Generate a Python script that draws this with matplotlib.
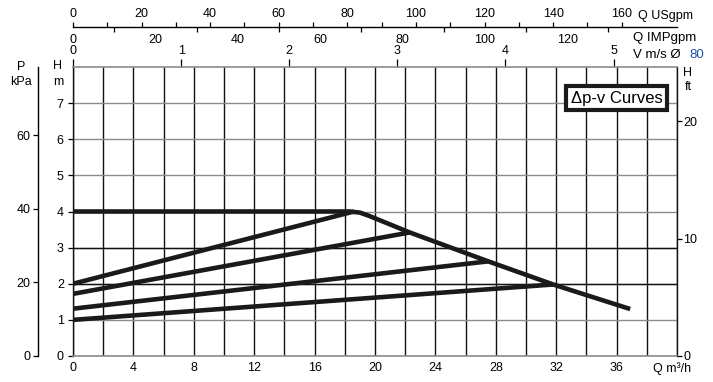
import numpy as np
import matplotlib
matplotlib.use("Agg")
from matplotlib import pyplot as plt
from matplotlib.ticker import MultipleLocator, FixedLocator

plt.rcParams['font.family'] = ['Liberation Sans', 'DejaVu Sans']
plt.rcParams['font.size'] = 9

# courbe max (delta p constant) : Q m3/h, H m
q_max = [0, 18.3, 19.0, 19.6, 22.3, 27.5, 31.8, 36.9]
h_max = [4.0, 4.0, 3.97, 3.88, 3.42, 2.62, 1.98, 1.30]

# courbes delta p-v : depart a Q=0, arrivee sur la courbe max
pv_start = [2.0, 1.72, 1.31, 1.0]
pv_end_q = [18.6, 22.3, 27.5, 31.8]
pv_end_h = [4.0, 3.42, 2.62, 1.98]

# echelles
q_ticks = [0, 4, 8, 12, 16, 20, 24, 28, 32, 36]
h_ticks = [0, 1, 2, 3, 4, 5, 6, 7]
kpa_ticks = [0, 20, 40, 60]
ft_ticks = [0, 10, 20]
usgpm_ticks = [0, 20, 40, 60, 80, 100, 120, 140, 160]
impgpm_ticks = [0, 20, 40, 60, 80, 100, 120]
v_ticks = [0, 1, 2, 3, 4, 5]

US_PER_M3H = 4.403
IMP_PER_M3H = 3.666
M3H_PER_MS = 7.16
KPA_PER_M = 9.81
FT_MAX = 24.6

W, H = 713, 382
fig = plt.figure(figsize=(W / 100, H / 100), dpi=100)
L, R = 73 / W, 677 / W
B, T = 26 / H, 315 / H
ax = fig.add_axes([L, B, R - L, T - B])
ax.set_xlim(0, 40)
ax.set_ylim(0, 8)

ax.xaxis.set_major_locator(FixedLocator(q_ticks))
ax.xaxis.set_minor_locator(MultipleLocator(2))
ax.set_yticks(h_ticks)
ax.tick_params(axis='x', which='both', length=0, pad=4.5)
ax.tick_params(axis='y', length=3.6, width=0.9, pad=3)
ax.grid(axis='x', which='both', color='#111111', lw=1.0)
ax.grid(axis='y', color='#8c8c8c', lw=1.0)
for h in [2, 3]:
    ax.axhline(h, color='#111111', lw=1.0, zorder=0.6)
ax.set_axisbelow(True)
for s in ['top', 'bottom']:
    ax.spines[s].set_color('#8c8c8c')
    ax.spines[s].set_linewidth(1.2)
for s in ['left', 'right']:
    ax.spines[s].set_color('#111111')
    ax.spines[s].set_linewidth(1.0)

# courbes
ax.plot(q_max, h_max, color='#1a1a1a', lw=3.3, solid_joinstyle='round',
        solid_capstyle='butt', zorder=3)
for h0, q1, h1 in zip(pv_start, pv_end_q, pv_end_h):
    ax.plot([0, q1], [h0, h1], color='#1a1a1a', lw=3.3,
            solid_capstyle='butt', zorder=3)

ax.text(36.0, 7.14, 'Δp-v Curves', ha='center', va='center', fontsize=12,
        zorder=5,
        bbox=dict(boxstyle='square,pad=0.26', fc='white', ec='#1a1a1a', lw=3))

# echelle V m/s sur le bord haut
sec = ax.secondary_xaxis('top', functions=(lambda q: q / M3H_PER_MS,
                                           lambda v: v * M3H_PER_MS))
sec.set_xticks(v_ticks)
sec.tick_params(length=6, width=0.9, pad=1)
sec.spines['top'].set_visible(False)

# echelle Q USgpm / IMPgpm
yq = (H - 27) / H
us = fig.add_axes([L, yq, R - L, 1e-4])
us.set_xlim(0, 40 * US_PER_M3H)
us.patch.set_visible(False)
us.set_yticks([])
for s in ['left', 'right', 'bottom']:
    us.spines[s].set_visible(False)
us.spines['top'].set_linewidth(1.0)
us.xaxis.tick_top()
us.set_xticks(usgpm_ticks)
us.xaxis.set_minor_locator(FixedLocator(list(range(10, 160, 20))))
us.tick_params(axis='x', which='both', length=3.6, width=0.9, pad=1.5)

imp = fig.add_axes([L, yq, R - L, 1e-4])
imp.set_xlim(0, 40 * IMP_PER_M3H)
imp.patch.set_visible(False)
imp.set_yticks([])
for s in imp.spines.values():
    s.set_visible(False)
imp.set_xticks(impgpm_ticks)
imp.xaxis.set_minor_locator(FixedLocator(list(range(10, 140, 20))))
imp.tick_params(axis='x', which='major', length=0, pad=5)
imp.tick_params(axis='x', which='minor', length=3.6, width=0.9)

# echelle P kPa a gauche
pk = fig.add_axes([38 / W, B, 1e-4, T - B])
pk.set_ylim(0, 8 * KPA_PER_M)
pk.patch.set_visible(False)
pk.set_xticks([])
for s in ['top', 'right', 'bottom']:
    pk.spines[s].set_visible(False)
pk.spines['left'].set_linewidth(1.0)
pk.set_yticks(kpa_ticks)
pk.tick_params(axis='y', length=3.6, width=0.9, pad=2)

# echelle H ft a droite
ft = fig.add_axes([R, B, 1e-4, T - B])
ft.set_ylim(0, FT_MAX)
ft.patch.set_visible(False)
ft.set_xticks([])
for s in ft.spines.values():
    s.set_visible(False)
ft.yaxis.tick_right()
ft.set_yticks(ft_ticks)
ft.tick_params(axis='y', length=3.6, width=0.9, pad=1)
ft.get_yticklabels()[0].set_va('center_baseline')

# titres des echelles
def ftxt(x, y, s, **kw):
    fig.text(x / W, 1 - y / H, s, va='center', **kw)

ftxt(21, 67, 'P', ha='center')
ftxt(21, 82, 'kPa', ha='center')
ftxt(58, 66, 'H', ha='center')
ftxt(58, 82, 'm', ha='center')
ftxt(688, 73, 'H', ha='center')
ftxt(688, 87, 'ft', ha='center')
ftxt(638, 16, 'Q USgpm', ha='left')
ftxt(633, 38, 'Q IMPgpm', ha='left', fontsize=9.5)
ftxt(633, 55, 'V m/s Ø', ha='left', fontsize=9.5)
ftxt(689, 55, '80', ha='left', fontsize=9.5, color='#1f4fa8')
ftxt(653, 369, 'Q m³/h', ha='left')

fig.savefig('out.png', dpi=100)
